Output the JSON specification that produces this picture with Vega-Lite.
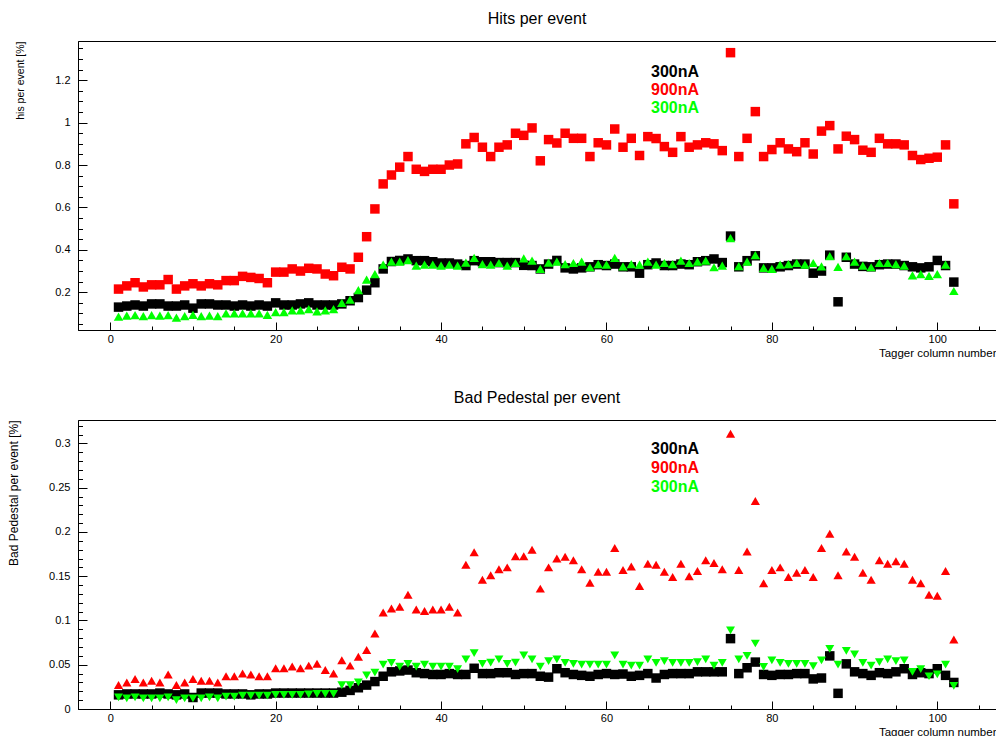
{
"$schema": "https://vega.github.io/schema/vega-lite/v6.json",
"padding": {"left": 7, "top": 10, "right": 0, "bottom": 0},
"background": "white",
"spacing": 30,
"config": {
 "view": {"stroke": "#000000", "strokeWidth": 1},
 "axis": {"domainColor": "#000000", "tickColor": "#000000", "labelColor": "#000000", "titleColor": "#000000", "labelFont": "Liberation Sans", "titleFont": "Liberation Sans", "labelFontSize": 11, "titleFontSize": 11, "titleFontWeight": "normal", "labelOverlap": false, "labelFlush": false, "labelBound": false, "domainWidth": 1, "tickWidth": 1, "tickOpacity": 1, "ticks": true, "grid": false},
 "title": {"font": "Liberation Sans", "fontSize": 16, "fontWeight": "normal", "color": "#000000", "frame": "group", "anchor": "middle", "offset": 14}
},
"datasets": {
"hits": [
{"c":1,"s":"a","v":0.13},{"c":2,"s":"a","v":0.135},{"c":3,"s":"a","v":0.14},{"c":4,"s":"a","v":0.135},{"c":5,"s":"a","v":0.145},{"c":6,"s":"a","v":0.145},{"c":7,"s":"a","v":0.135},{"c":8,"s":"a","v":0.135},{"c":9,"s":"a","v":0.14},{"c":10,"s":"a","v":0.125},
{"c":11,"s":"a","v":0.145},{"c":12,"s":"a","v":0.145},{"c":13,"s":"a","v":0.14},{"c":14,"s":"a","v":0.14},{"c":15,"s":"a","v":0.135},{"c":16,"s":"a","v":0.14},{"c":17,"s":"a","v":0.135},{"c":18,"s":"a","v":0.14},{"c":19,"s":"a","v":0.135},{"c":20,"s":"a","v":0.15},
{"c":21,"s":"a","v":0.14},{"c":22,"s":"a","v":0.14},{"c":23,"s":"a","v":0.145},{"c":24,"s":"a","v":0.15},{"c":25,"s":"a","v":0.14},{"c":26,"s":"a","v":0.14},{"c":27,"s":"a","v":0.14},{"c":28,"s":"a","v":0.145},{"c":29,"s":"a","v":0.16},{"c":30,"s":"a","v":0.175},
{"c":31,"s":"a","v":0.21},{"c":32,"s":"a","v":0.245},{"c":33,"s":"a","v":0.31},{"c":34,"s":"a","v":0.345},{"c":35,"s":"a","v":0.35},{"c":36,"s":"a","v":0.357},{"c":37,"s":"a","v":0.349},{"c":38,"s":"a","v":0.349},{"c":39,"s":"a","v":0.344},{"c":40,"s":"a","v":0.338},
{"c":41,"s":"a","v":0.338},{"c":42,"s":"a","v":0.333},{"c":43,"s":"a","v":0.326},{"c":44,"s":"a","v":0.349},{"c":45,"s":"a","v":0.344},{"c":46,"s":"a","v":0.344},{"c":47,"s":"a","v":0.34},{"c":48,"s":"a","v":0.34},{"c":49,"s":"a","v":0.34},{"c":50,"s":"a","v":0.327},
{"c":51,"s":"a","v":0.326},{"c":52,"s":"a","v":0.31},{"c":53,"s":"a","v":0.333},{"c":54,"s":"a","v":0.35},{"c":55,"s":"a","v":0.315},{"c":56,"s":"a","v":0.31},{"c":57,"s":"a","v":0.315},{"c":58,"s":"a","v":0.32},{"c":59,"s":"a","v":0.33},{"c":60,"s":"a","v":0.326},
{"c":61,"s":"a","v":0.333},{"c":62,"s":"a","v":0.32},{"c":63,"s":"a","v":0.32},{"c":64,"s":"a","v":0.29},{"c":65,"s":"a","v":0.33},{"c":66,"s":"a","v":0.338},{"c":67,"s":"a","v":0.326},{"c":68,"s":"a","v":0.326},{"c":69,"s":"a","v":0.333},{"c":70,"s":"a","v":0.33},
{"c":71,"s":"a","v":0.344},{"c":72,"s":"a","v":0.349},{"c":73,"s":"a","v":0.357},{"c":74,"s":"a","v":0.34},{"c":75,"s":"a","v":0.465},{"c":76,"s":"a","v":0.32},{"c":77,"s":"a","v":0.349},{"c":78,"s":"a","v":0.372},{"c":79,"s":"a","v":0.315},{"c":80,"s":"a","v":0.315},
{"c":81,"s":"a","v":0.32},{"c":82,"s":"a","v":0.326},{"c":83,"s":"a","v":0.333},{"c":84,"s":"a","v":0.333},{"c":85,"s":"a","v":0.29},{"c":86,"s":"a","v":0.3},{"c":87,"s":"a","v":0.375},{"c":88,"s":"a","v":0.155},{"c":89,"s":"a","v":0.365},{"c":90,"s":"a","v":0.333},
{"c":91,"s":"a","v":0.322},{"c":92,"s":"a","v":0.32},{"c":93,"s":"a","v":0.33},{"c":94,"s":"a","v":0.333},{"c":95,"s":"a","v":0.333},{"c":96,"s":"a","v":0.326},{"c":97,"s":"a","v":0.32},{"c":98,"s":"a","v":0.315},{"c":99,"s":"a","v":0.32},{"c":100,"s":"a","v":0.35},
{"c":101,"s":"a","v":0.326},{"c":102,"s":"a","v":0.248},
{"c":1,"s":"b","v":0.215},{"c":2,"s":"b","v":0.23},{"c":3,"s":"b","v":0.245},{"c":4,"s":"b","v":0.225},{"c":5,"s":"b","v":0.235},{"c":6,"s":"b","v":0.235},{"c":7,"s":"b","v":0.26},{"c":8,"s":"b","v":0.215},{"c":9,"s":"b","v":0.23},{"c":10,"s":"b","v":0.24},
{"c":11,"s":"b","v":0.23},{"c":12,"s":"b","v":0.24},{"c":13,"s":"b","v":0.235},{"c":14,"s":"b","v":0.255},{"c":15,"s":"b","v":0.255},{"c":16,"s":"b","v":0.275},{"c":17,"s":"b","v":0.27},{"c":18,"s":"b","v":0.265},{"c":19,"s":"b","v":0.245},{"c":20,"s":"b","v":0.295},
{"c":21,"s":"b","v":0.295},{"c":22,"s":"b","v":0.31},{"c":23,"s":"b","v":0.3},{"c":24,"s":"b","v":0.313},{"c":25,"s":"b","v":0.31},{"c":26,"s":"b","v":0.286},{"c":27,"s":"b","v":0.278},{"c":28,"s":"b","v":0.318},{"c":29,"s":"b","v":0.31},{"c":30,"s":"b","v":0.365},
{"c":31,"s":"b","v":0.462},{"c":32,"s":"b","v":0.593},{"c":33,"s":"b","v":0.711},{"c":34,"s":"b","v":0.753},{"c":35,"s":"b","v":0.79},{"c":36,"s":"b","v":0.84},{"c":37,"s":"b","v":0.78},{"c":38,"s":"b","v":0.77},{"c":39,"s":"b","v":0.78},{"c":40,"s":"b","v":0.78},
{"c":41,"s":"b","v":0.8},{"c":42,"s":"b","v":0.805},{"c":43,"s":"b","v":0.9},{"c":44,"s":"b","v":0.93},{"c":45,"s":"b","v":0.884},{"c":46,"s":"b","v":0.84},{"c":47,"s":"b","v":0.884},{"c":48,"s":"b","v":0.895},{"c":49,"s":"b","v":0.95},{"c":50,"s":"b","v":0.94},
{"c":51,"s":"b","v":0.975},{"c":52,"s":"b","v":0.82},{"c":53,"s":"b","v":0.92},{"c":54,"s":"b","v":0.904},{"c":55,"s":"b","v":0.95},{"c":56,"s":"b","v":0.926},{"c":57,"s":"b","v":0.926},{"c":58,"s":"b","v":0.84},{"c":59,"s":"b","v":0.905},{"c":60,"s":"b","v":0.895},
{"c":61,"s":"b","v":0.97},{"c":62,"s":"b","v":0.884},{"c":63,"s":"b","v":0.926},{"c":64,"s":"b","v":0.845},{"c":65,"s":"b","v":0.934},{"c":66,"s":"b","v":0.925},{"c":67,"s":"b","v":0.887},{"c":68,"s":"b","v":0.86},{"c":69,"s":"b","v":0.934},{"c":70,"s":"b","v":0.884},
{"c":71,"s":"b","v":0.895},{"c":72,"s":"b","v":0.905},{"c":73,"s":"b","v":0.9},{"c":74,"s":"b","v":0.868},{"c":75,"s":"b","v":1.33},{"c":76,"s":"b","v":0.84},{"c":77,"s":"b","v":0.926},{"c":78,"s":"b","v":1.052},{"c":79,"s":"b","v":0.84},{"c":80,"s":"b","v":0.873},
{"c":81,"s":"b","v":0.905},{"c":82,"s":"b","v":0.876},{"c":83,"s":"b","v":0.863},{"c":84,"s":"b","v":0.905},{"c":85,"s":"b","v":0.852},{"c":86,"s":"b","v":0.96},{"c":87,"s":"b","v":0.986},{"c":88,"s":"b","v":0.876},{"c":89,"s":"b","v":0.936},{"c":90,"s":"b","v":0.92},
{"c":91,"s":"b","v":0.87},{"c":92,"s":"b","v":0.86},{"c":93,"s":"b","v":0.926},{"c":94,"s":"b","v":0.9},{"c":95,"s":"b","v":0.9},{"c":96,"s":"b","v":0.895},{"c":97,"s":"b","v":0.845},{"c":98,"s":"b","v":0.826},{"c":99,"s":"b","v":0.832},{"c":100,"s":"b","v":0.837},
{"c":101,"s":"b","v":0.895},{"c":102,"s":"b","v":0.617},
{"c":1,"s":"c","v":0.085},{"c":2,"s":"c","v":0.09},{"c":3,"s":"c","v":0.092},{"c":4,"s":"c","v":0.087},{"c":5,"s":"c","v":0.092},{"c":6,"s":"c","v":0.09},{"c":7,"s":"c","v":0.092},{"c":8,"s":"c","v":0.08},{"c":9,"s":"c","v":0.087},{"c":10,"s":"c","v":0.093},
{"c":11,"s":"c","v":0.087},{"c":12,"s":"c","v":0.09},{"c":13,"s":"c","v":0.087},{"c":14,"s":"c","v":0.1},{"c":15,"s":"c","v":0.1},{"c":16,"s":"c","v":0.1},{"c":17,"s":"c","v":0.1},{"c":18,"s":"c","v":0.1},{"c":19,"s":"c","v":0.093},{"c":20,"s":"c","v":0.106},
{"c":21,"s":"c","v":0.106},{"c":22,"s":"c","v":0.115},{"c":23,"s":"c","v":0.115},{"c":24,"s":"c","v":0.12},{"c":25,"s":"c","v":0.11},{"c":26,"s":"c","v":0.115},{"c":27,"s":"c","v":0.12},{"c":28,"s":"c","v":0.15},{"c":29,"s":"c","v":0.165},{"c":30,"s":"c","v":0.21},
{"c":31,"s":"c","v":0.26},{"c":32,"s":"c","v":0.286},{"c":33,"s":"c","v":0.33},{"c":34,"s":"c","v":0.344},{"c":35,"s":"c","v":0.344},{"c":36,"s":"c","v":0.352},{"c":37,"s":"c","v":0.326},{"c":38,"s":"c","v":0.33},{"c":39,"s":"c","v":0.33},{"c":40,"s":"c","v":0.326},
{"c":41,"s":"c","v":0.33},{"c":42,"s":"c","v":0.326},{"c":43,"s":"c","v":0.34},{"c":44,"s":"c","v":0.362},{"c":45,"s":"c","v":0.333},{"c":46,"s":"c","v":0.33},{"c":47,"s":"c","v":0.338},{"c":48,"s":"c","v":0.326},{"c":49,"s":"c","v":0.338},{"c":50,"s":"c","v":0.36},
{"c":51,"s":"c","v":0.349},{"c":52,"s":"c","v":0.31},{"c":53,"s":"c","v":0.34},{"c":54,"s":"c","v":0.344},{"c":55,"s":"c","v":0.333},{"c":56,"s":"c","v":0.338},{"c":57,"s":"c","v":0.344},{"c":58,"s":"c","v":0.318},{"c":59,"s":"c","v":0.333},{"c":60,"s":"c","v":0.33},
{"c":61,"s":"c","v":0.362},{"c":62,"s":"c","v":0.322},{"c":63,"s":"c","v":0.333},{"c":64,"s":"c","v":0.33},{"c":65,"s":"c","v":0.344},{"c":66,"s":"c","v":0.33},{"c":67,"s":"c","v":0.338},{"c":68,"s":"c","v":0.333},{"c":69,"s":"c","v":0.349},{"c":70,"s":"c","v":0.338},
{"c":71,"s":"c","v":0.344},{"c":72,"s":"c","v":0.349},{"c":73,"s":"c","v":0.318},{"c":74,"s":"c","v":0.326},{"c":75,"s":"c","v":0.455},{"c":76,"s":"c","v":0.323},{"c":77,"s":"c","v":0.344},{"c":78,"s":"c","v":0.375},{"c":79,"s":"c","v":0.315},{"c":80,"s":"c","v":0.31},
{"c":81,"s":"c","v":0.33},{"c":82,"s":"c","v":0.333},{"c":83,"s":"c","v":0.338},{"c":84,"s":"c","v":0.33},{"c":85,"s":"c","v":0.338},{"c":86,"s":"c","v":0.322},{"c":87,"s":"c","v":0.37},{"c":88,"s":"c","v":0.32},{"c":89,"s":"c","v":0.37},{"c":90,"s":"c","v":0.344},
{"c":91,"s":"c","v":0.326},{"c":92,"s":"c","v":0.318},{"c":93,"s":"c","v":0.338},{"c":94,"s":"c","v":0.338},{"c":95,"s":"c","v":0.333},{"c":96,"s":"c","v":0.326},{"c":97,"s":"c","v":0.28},{"c":98,"s":"c","v":0.286},{"c":99,"s":"c","v":0.277},{"c":100,"s":"c","v":0.286},
{"c":101,"s":"c","v":0.33},{"c":102,"s":"c","v":0.206}
],
"ped": [
{"c":1,"s":"a","v":0.016},{"c":2,"s":"a","v":0.017},{"c":3,"s":"a","v":0.017},{"c":4,"s":"a","v":0.017},{"c":5,"s":"a","v":0.017},{"c":6,"s":"a","v":0.018},{"c":7,"s":"a","v":0.017},{"c":8,"s":"a","v":0.016},{"c":9,"s":"a","v":0.017},{"c":10,"s":"a","v":0.013},
{"c":11,"s":"a","v":0.018},{"c":12,"s":"a","v":0.018},{"c":13,"s":"a","v":0.018},{"c":14,"s":"a","v":0.017},{"c":15,"s":"a","v":0.017},{"c":16,"s":"a","v":0.017},{"c":17,"s":"a","v":0.016},{"c":18,"s":"a","v":0.017},{"c":19,"s":"a","v":0.017},{"c":20,"s":"a","v":0.018},
{"c":21,"s":"a","v":0.018},{"c":22,"s":"a","v":0.018},{"c":23,"s":"a","v":0.018},{"c":24,"s":"a","v":0.018},{"c":25,"s":"a","v":0.018},{"c":26,"s":"a","v":0.018},{"c":27,"s":"a","v":0.018},{"c":28,"s":"a","v":0.019},{"c":29,"s":"a","v":0.021},{"c":30,"s":"a","v":0.024},
{"c":31,"s":"a","v":0.027},{"c":32,"s":"a","v":0.031},{"c":33,"s":"a","v":0.037},{"c":34,"s":"a","v":0.042},{"c":35,"s":"a","v":0.043},{"c":36,"s":"a","v":0.044},{"c":37,"s":"a","v":0.041},{"c":38,"s":"a","v":0.04},{"c":39,"s":"a","v":0.039},{"c":40,"s":"a","v":0.039},
{"c":41,"s":"a","v":0.04},{"c":42,"s":"a","v":0.039},{"c":43,"s":"a","v":0.039},{"c":44,"s":"a","v":0.046},{"c":45,"s":"a","v":0.04},{"c":46,"s":"a","v":0.04},{"c":47,"s":"a","v":0.041},{"c":48,"s":"a","v":0.041},{"c":49,"s":"a","v":0.039},{"c":50,"s":"a","v":0.04},
{"c":51,"s":"a","v":0.04},{"c":52,"s":"a","v":0.037},{"c":53,"s":"a","v":0.036},{"c":54,"s":"a","v":0.0455},{"c":55,"s":"a","v":0.041},{"c":56,"s":"a","v":0.039},{"c":57,"s":"a","v":0.038},{"c":58,"s":"a","v":0.037},{"c":59,"s":"a","v":0.039},{"c":60,"s":"a","v":0.04},
{"c":61,"s":"a","v":0.039},{"c":62,"s":"a","v":0.0395},{"c":63,"s":"a","v":0.037},{"c":64,"s":"a","v":0.038},{"c":65,"s":"a","v":0.04},{"c":66,"s":"a","v":0.035},{"c":67,"s":"a","v":0.039},{"c":68,"s":"a","v":0.04},{"c":69,"s":"a","v":0.04},{"c":70,"s":"a","v":0.04},
{"c":71,"s":"a","v":0.042},{"c":72,"s":"a","v":0.042},{"c":73,"s":"a","v":0.042},{"c":74,"s":"a","v":0.042},{"c":75,"s":"a","v":0.0795},{"c":76,"s":"a","v":0.04},{"c":77,"s":"a","v":0.0466},{"c":78,"s":"a","v":0.053},{"c":79,"s":"a","v":0.039},{"c":80,"s":"a","v":0.038},
{"c":81,"s":"a","v":0.039},{"c":82,"s":"a","v":0.039},{"c":83,"s":"a","v":0.04},{"c":84,"s":"a","v":0.04},{"c":85,"s":"a","v":0.034},{"c":86,"s":"a","v":0.035},{"c":87,"s":"a","v":0.06},{"c":88,"s":"a","v":0.0177},{"c":89,"s":"a","v":0.051},{"c":90,"s":"a","v":0.042},
{"c":91,"s":"a","v":0.04},{"c":92,"s":"a","v":0.038},{"c":93,"s":"a","v":0.041},{"c":94,"s":"a","v":0.04},{"c":95,"s":"a","v":0.042},{"c":96,"s":"a","v":0.0455},{"c":97,"s":"a","v":0.039},{"c":98,"s":"a","v":0.041},{"c":99,"s":"a","v":0.04},{"c":100,"s":"a","v":0.0455},
{"c":101,"s":"a","v":0.038},{"c":102,"s":"a","v":0.03},
{"c":1,"s":"b","v":0.027},{"c":2,"s":"b","v":0.03},{"c":3,"s":"b","v":0.034},{"c":4,"s":"b","v":0.03},{"c":5,"s":"b","v":0.032},{"c":6,"s":"b","v":0.03},{"c":7,"s":"b","v":0.039},{"c":8,"s":"b","v":0.027},{"c":9,"s":"b","v":0.03},{"c":10,"s":"b","v":0.034},
{"c":11,"s":"b","v":0.032},{"c":12,"s":"b","v":0.032},{"c":13,"s":"b","v":0.03},{"c":14,"s":"b","v":0.037},{"c":15,"s":"b","v":0.037},{"c":16,"s":"b","v":0.04},{"c":17,"s":"b","v":0.039},{"c":18,"s":"b","v":0.037},{"c":19,"s":"b","v":0.037},{"c":20,"s":"b","v":0.046},
{"c":21,"s":"b","v":0.046},{"c":22,"s":"b","v":0.048},{"c":23,"s":"b","v":0.046},{"c":24,"s":"b","v":0.049},{"c":25,"s":"b","v":0.051},{"c":26,"s":"b","v":0.044},{"c":27,"s":"b","v":0.04},{"c":28,"s":"b","v":0.055},{"c":29,"s":"b","v":0.049},{"c":30,"s":"b","v":0.059},
{"c":31,"s":"b","v":0.0666},{"c":32,"s":"b","v":0.0854},{"c":33,"s":"b","v":0.109},{"c":34,"s":"b","v":0.1136},{"c":35,"s":"b","v":0.1155},{"c":36,"s":"b","v":0.129},{"c":37,"s":"b","v":0.1125},{"c":38,"s":"b","v":0.1106},{"c":39,"s":"b","v":0.1125},{"c":40,"s":"b","v":0.1125},
{"c":41,"s":"b","v":0.1155},{"c":42,"s":"b","v":0.109},{"c":43,"s":"b","v":0.163},{"c":44,"s":"b","v":0.177},{"c":45,"s":"b","v":0.146},{"c":46,"s":"b","v":0.151},{"c":47,"s":"b","v":0.158},{"c":48,"s":"b","v":0.16},{"c":49,"s":"b","v":0.1727},{"c":50,"s":"b","v":0.1727},
{"c":51,"s":"b","v":0.18},{"c":52,"s":"b","v":0.136},{"c":53,"s":"b","v":0.16},{"c":54,"s":"b","v":0.17},{"c":55,"s":"b","v":0.172},{"c":56,"s":"b","v":0.168},{"c":57,"s":"b","v":0.158},{"c":58,"s":"b","v":0.1426},{"c":59,"s":"b","v":0.155},{"c":60,"s":"b","v":0.155},
{"c":61,"s":"b","v":0.182},{"c":62,"s":"b","v":0.157},{"c":63,"s":"b","v":0.161},{"c":64,"s":"b","v":0.139},{"c":65,"s":"b","v":0.164},{"c":66,"s":"b","v":0.163},{"c":67,"s":"b","v":0.155},{"c":68,"s":"b","v":0.149},{"c":69,"s":"b","v":0.164},{"c":70,"s":"b","v":0.15},
{"c":71,"s":"b","v":0.156},{"c":72,"s":"b","v":0.168},{"c":73,"s":"b","v":0.165},{"c":74,"s":"b","v":0.158},{"c":75,"s":"b","v":0.311},{"c":76,"s":"b","v":0.157},{"c":77,"s":"b","v":0.178},{"c":78,"s":"b","v":0.235},{"c":79,"s":"b","v":0.142},{"c":80,"s":"b","v":0.157},
{"c":81,"s":"b","v":0.16},{"c":82,"s":"b","v":0.149},{"c":83,"s":"b","v":0.154},{"c":84,"s":"b","v":0.157},{"c":85,"s":"b","v":0.149},{"c":86,"s":"b","v":0.182},{"c":87,"s":"b","v":0.198},{"c":88,"s":"b","v":0.151},{"c":89,"s":"b","v":0.178},{"c":90,"s":"b","v":0.172},
{"c":91,"s":"b","v":0.154},{"c":92,"s":"b","v":0.146},{"c":93,"s":"b","v":0.168},{"c":94,"s":"b","v":0.164},{"c":95,"s":"b","v":0.167},{"c":96,"s":"b","v":0.164},{"c":97,"s":"b","v":0.146},{"c":98,"s":"b","v":0.142},{"c":99,"s":"b","v":0.129},{"c":100,"s":"b","v":0.128},
{"c":101,"s":"b","v":0.156},{"c":102,"s":"b","v":0.0786},
{"c":1,"s":"c","v":0.013},{"c":2,"s":"c","v":0.012},{"c":3,"s":"c","v":0.013},{"c":4,"s":"c","v":0.012},{"c":5,"s":"c","v":0.012},{"c":6,"s":"c","v":0.012},{"c":7,"s":"c","v":0.013},{"c":8,"s":"c","v":0.01},{"c":9,"s":"c","v":0.012},{"c":10,"s":"c","v":0.012},
{"c":11,"s":"c","v":0.012},{"c":12,"s":"c","v":0.013},{"c":13,"s":"c","v":0.012},{"c":14,"s":"c","v":0.014},{"c":15,"s":"c","v":0.014},{"c":16,"s":"c","v":0.015},{"c":17,"s":"c","v":0.015},{"c":18,"s":"c","v":0.015},{"c":19,"s":"c","v":0.015},{"c":20,"s":"c","v":0.016},
{"c":21,"s":"c","v":0.016},{"c":22,"s":"c","v":0.016},{"c":23,"s":"c","v":0.016},{"c":24,"s":"c","v":0.0166},{"c":25,"s":"c","v":0.017},{"c":26,"s":"c","v":0.017},{"c":27,"s":"c","v":0.017},{"c":28,"s":"c","v":0.027},{"c":29,"s":"c","v":0.027},{"c":30,"s":"c","v":0.03},
{"c":31,"s":"c","v":0.038},{"c":32,"s":"c","v":0.041},{"c":33,"s":"c","v":0.05},{"c":34,"s":"c","v":0.052},{"c":35,"s":"c","v":0.048},{"c":36,"s":"c","v":0.051},{"c":37,"s":"c","v":0.048},{"c":38,"s":"c","v":0.05},{"c":39,"s":"c","v":0.048},{"c":40,"s":"c","v":0.048},
{"c":41,"s":"c","v":0.048},{"c":42,"s":"c","v":0.045},{"c":43,"s":"c","v":0.056},{"c":44,"s":"c","v":0.063},{"c":45,"s":"c","v":0.051},{"c":46,"s":"c","v":0.0525},{"c":47,"s":"c","v":0.056},{"c":48,"s":"c","v":0.051},{"c":49,"s":"c","v":0.0525},{"c":50,"s":"c","v":0.0606},
{"c":51,"s":"c","v":0.056},{"c":52,"s":"c","v":0.048},{"c":53,"s":"c","v":0.054},{"c":54,"s":"c","v":0.056},{"c":55,"s":"c","v":0.052},{"c":56,"s":"c","v":0.051},{"c":57,"s":"c","v":0.05},{"c":58,"s":"c","v":0.05},{"c":59,"s":"c","v":0.05},{"c":60,"s":"c","v":0.05},
{"c":61,"s":"c","v":0.0606},{"c":62,"s":"c","v":0.05},{"c":63,"s":"c","v":0.049},{"c":64,"s":"c","v":0.049},{"c":65,"s":"c","v":0.056},{"c":66,"s":"c","v":0.052},{"c":67,"s":"c","v":0.054},{"c":68,"s":"c","v":0.052},{"c":69,"s":"c","v":0.052},{"c":70,"s":"c","v":0.052},
{"c":71,"s":"c","v":0.053},{"c":72,"s":"c","v":0.056},{"c":73,"s":"c","v":0.049},{"c":74,"s":"c","v":0.052},{"c":75,"s":"c","v":0.0888},{"c":76,"s":"c","v":0.056},{"c":77,"s":"c","v":0.06},{"c":78,"s":"c","v":0.074},{"c":79,"s":"c","v":0.0475},{"c":80,"s":"c","v":0.055},
{"c":81,"s":"c","v":0.052},{"c":82,"s":"c","v":0.051},{"c":83,"s":"c","v":0.051},{"c":84,"s":"c","v":0.051},{"c":85,"s":"c","v":0.0485},{"c":86,"s":"c","v":0.055},{"c":87,"s":"c","v":0.068},{"c":88,"s":"c","v":0.05},{"c":89,"s":"c","v":0.0656},{"c":90,"s":"c","v":0.0618},
{"c":91,"s":"c","v":0.052},{"c":92,"s":"c","v":0.049},{"c":93,"s":"c","v":0.053},{"c":94,"s":"c","v":0.056},{"c":95,"s":"c","v":0.054},{"c":96,"s":"c","v":0.055},{"c":97,"s":"c","v":0.042},{"c":98,"s":"c","v":0.045},{"c":99,"s":"c","v":0.037},{"c":100,"s":"c","v":0.039},
{"c":101,"s":"c","v":0.05},{"c":102,"s":"c","v":0.026}
]
},
"resolve": {"scale": {"x": "independent", "y": "independent", "color": "independent", "shape": "independent", "size": "independent"}, "legend": {"color": "independent"}},
"vconcat": [
{
 "title": {"text": "Hits per event"},
 "width": 918, "height": 289,
 "data": {"name": "hits"},
 "mark": {"type": "point", "filled": true, "opacity": 1, "strokeWidth": 0},
 "encoding": {
  "x": {"field": "c", "type": "quantitative", "scale": {"domain": [-3.9, 107.1], "nice": false, "zero": false},
   "axis": {"title": "Tagger column number", "titleAnchor": "end", "titleFontSize": 11.5, "values": [0,5,10,15,20,25,30,35,40,45,50,55,60,65,70,75,80,85,90,95,100,105], "labelExpr": "datum.value % 20 == 0 ? datum.label : ''", "tickSize": {"condition": {"test": "datum.value % 20 == 0", "value": -8}, "value": -4}, "labelPadding": 11, "titlePadding": -1}},
  "y": {"field": "v", "type": "quantitative", "scale": {"domain": [0.022, 1.385], "nice": false, "zero": false},
   "axis": {"title": "his per event [%]", "titleAnchor": "end", "titleFontSize": 10.5, "values": [0.05,0.1,0.15,0.2,0.25,0.3,0.35,0.4,0.45,0.5,0.55,0.6,0.65,0.7,0.75,0.8,0.85,0.9,0.95,1,1.05,1.1,1.15,1.2,1.25,1.3,1.35], "labelExpr": "abs(datum.value*5 - round(datum.value*5)) < 0.001 ? format(datum.value, '~g') : ''", "tickSize": {"condition": {"test": "abs(datum.value*5 - round(datum.value*5)) < 0.001", "value": -9}, "value": -4.5}, "labelPadding": 17, "titlePadding": 29}},
  "color": {"field": "s", "type": "nominal", "scale": {"domain": ["a","b","c"], "range": ["#000000","#ff0000","#00ff00"]},
   "legend": {"title": null, "orient": "none", "legendX": 557, "legendY": 23, "symbolSize": 0, "symbolStrokeWidth": 0, "symbolOpacity": 0, "labelFont": "Liberation Sans", "labelFontSize": 16, "labelFontWeight": "bold", "labelOffset": 0, "rowPadding": 2, "labelExpr": "datum.value == 'b' ? '900nA' : '300nA'", "encode": {"labels": {"update": {"fill": {"signal": "datum.value == 'b' ? '#ff0000' : (datum.value == 'c' ? '#00ff00' : '#000000')"}}}}}},
  "shape": {"field": "s", "type": "nominal", "scale": {"domain": ["a","b","c"], "range": ["square","square","triangle-up"]}, "legend": null},
  "size": {"field": "s", "type": "ordinal", "scale": {"domain": ["a","b","c"], "range": [90,90,80]}, "legend": null}
 }
},
{
 "title": {"text": "Bad Pedestal per event"},
 "width": 918, "height": 289,
 "data": {"name": "ped"},
 "mark": {"type": "point", "filled": true, "opacity": 1, "strokeWidth": 0},
 "encoding": {
  "x": {"field": "c", "type": "quantitative", "scale": {"domain": [-3.9, 107.1], "nice": false, "zero": false},
   "axis": {"title": "Tagger column number", "titleAnchor": "end", "titleFontSize": 11.5, "values": [0,5,10,15,20,25,30,35,40,45,50,55,60,65,70,75,80,85,90,95,100,105], "labelExpr": "datum.value % 20 == 0 ? datum.label : ''", "tickSize": {"condition": {"test": "datum.value % 20 == 0", "value": -8}, "value": -4}, "labelPadding": 11, "titlePadding": -1}},
  "y": {"field": "v", "type": "quantitative", "scale": {"domain": [0, 0.3265], "nice": false, "zero": false},
   "axis": {"title": "Bad Pedestal per event [%]", "titleAnchor": "end", "titleFontSize": 12, "values": [0,0.01,0.02,0.03,0.04,0.05,0.06,0.07,0.08,0.09,0.1,0.11,0.12,0.13,0.14,0.15,0.16,0.17,0.18,0.19,0.2,0.21,0.22,0.23,0.24,0.25,0.26,0.27,0.28,0.29,0.3,0.31,0.32], "labelExpr": "abs(datum.value*20 - round(datum.value*20)) < 0.001 ? format(datum.value, '~g') : ''", "tickSize": {"condition": {"test": "abs(datum.value*20 - round(datum.value*20)) < 0.001", "value": -9}, "value": -4.5}, "labelPadding": 17, "titlePadding": 28}},
  "color": {"field": "s", "type": "nominal", "scale": {"domain": ["a","b","c"], "range": ["#000000","#ff0000","#00ff00"]},
   "legend": {"title": null, "orient": "none", "legendX": 557, "legendY": 21, "symbolSize": 0, "symbolStrokeWidth": 0, "symbolOpacity": 0, "labelFont": "Liberation Sans", "labelFontSize": 16, "labelFontWeight": "bold", "labelOffset": 0, "rowPadding": 3, "labelExpr": "datum.value == 'b' ? '900nA' : '300nA'", "encode": {"labels": {"update": {"fill": {"signal": "datum.value == 'b' ? '#ff0000' : (datum.value == 'c' ? '#00ff00' : '#000000')"}}}}}},
  "shape": {"field": "s", "type": "nominal", "scale": {"domain": ["a","b","c"], "range": ["square","triangle-up","triangle-down"]}, "legend": null},
  "size": {"field": "s", "type": "ordinal", "scale": {"domain": ["a","b","c"], "range": [90,80,80]}, "legend": null}
 }
}
]
}
